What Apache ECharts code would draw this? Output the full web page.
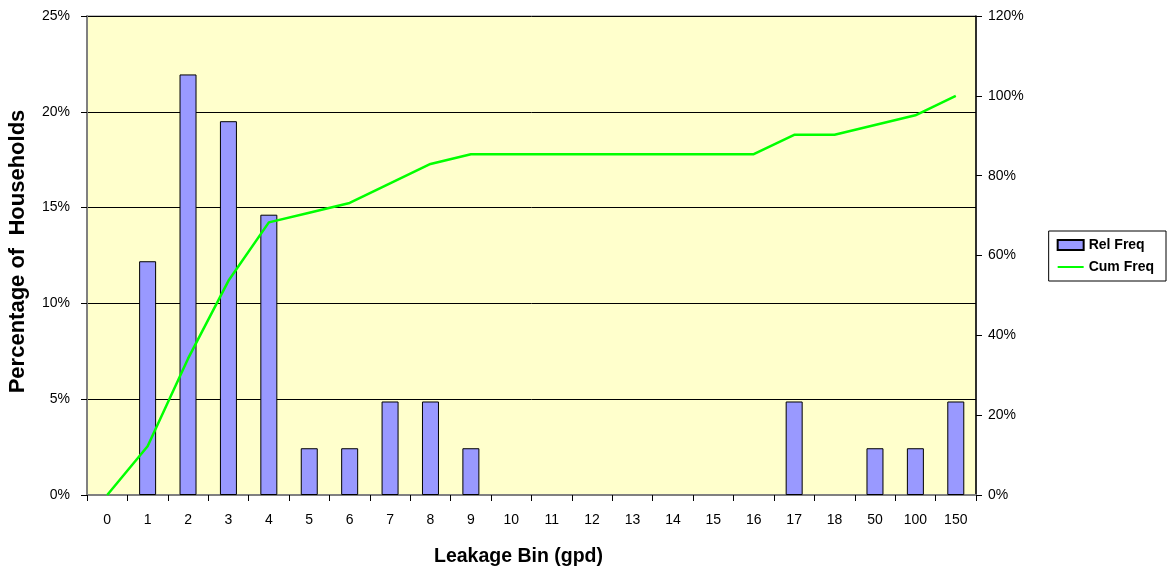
<!DOCTYPE html>
<html><head><meta charset="utf-8">
<script src="https://cdn.jsdelivr.net/npm/echarts@6/dist/echarts.min.js"></script>
<style>html,body{margin:0;padding:0;background:#fff}#c{width:1169px;height:572px}</style>
</head><body><div id="c"></div>
<script>
const categories = ['0','1','2','3','4','5','6','7','8','9','10','11','12','13','14','15','16','17','18','50','100','150'];
const relFreq = [0, 12.2, 21.95, 19.51, 14.63, 2.44, 2.44, 4.88, 4.88, 2.44, 0, 0, 0, 0, 0, 0, 0, 4.88, 0, 2.44, 2.44, 4.88];
const cumFreq = [0, 12.2, 34.15, 53.66, 68.29, 70.73, 73.17, 78.05, 82.93, 85.37, 85.37, 85.37, 85.37, 85.37, 85.37, 85.37, 85.37, 90.24, 90.24, 92.68, 95.12, 100];

const font = 'Liberation Sans, Arial, sans-serif';
const chart = echarts.init(document.getElementById('c'));
chart.setOption({
  animation: false,
  textStyle: {fontFamily: font},
  grid: {left: 87, right: 193, top: 16, bottom: 77, outerBoundsMode: 'none', containLabel: false,
         show: true, backgroundColor: '#FFFFCC', borderColor: '#808080', borderWidth: 1},
  legend: {
    right: 3, top: 231, orient: 'vertical', itemGap: 8,
    padding: [7, 12, 7, 8],
    borderColor: '#000', borderWidth: 1,
    itemWidth: 26, itemHeight: 10,
    textStyle: {fontFamily: font, fontWeight: 'bold', fontSize: 14, color: '#000'},
    data: [
      {name: 'Rel Freq', icon: 'rect'},
      {name: 'Cum Freq', icon: 'path://M0,5 L26,5 L26,7 L0,7 Z'}
    ]
  },
  xAxis: {
    type: 'category', data: categories,
    name: 'Leakage Bin (gpd)', nameLocation: 'middle', nameGap: 52,
    nameTextStyle: {fontFamily: font, fontWeight: 'bold', fontSize: 19.5, color: '#000', padding: [0, 26, 0, 0]},
    axisLine: {lineStyle: {color: '#808080', width: 2}},
    axisTick: {show: true, alignWithLabel: false, length: 6, lineStyle: {color: '#000'}},
    axisLabel: {color: '#000', fontSize: 14, margin: 18, fontFamily: font}
  },
  yAxis: [
    {
      type: 'value', min: 0, max: 25, interval: 5,
      name: 'Percentage of  Households', nameLocation: 'middle', nameGap: 58,
      nameTextStyle: {fontFamily: font, fontWeight: 'bold', fontSize: 22, color: '#000', padding: [0, 0, 0, 8]},
      axisLine: {show: true, lineStyle: {color: '#808080', width: 2}},
      axisTick: {show: true, length: 6, lineStyle: {color: '#000'}},
      axisLabel: {color: '#000', fontSize: 14, margin: 17, formatter: v => v + '%'},
      splitLine: {show: true, lineStyle: {color: '#000', width: 1}}
    },
    {
      type: 'value', min: 0, max: 120, interval: 20,
      axisLine: {show: true, lineStyle: {color: '#000', width: 1.5}},
      axisTick: {show: true, length: 6, lineStyle: {color: '#000'}},
      axisLabel: {color: '#000', fontSize: 14, margin: 12, formatter: v => v + '%'},
      splitLine: {show: false}
    }
  ],
  series: [
    {
      name: 'Rel Freq', type: 'bar', data: relFreq.map(v => v === 0 ? '-' : v), yAxisIndex: 0,
      barWidth: 17,
      itemStyle: {color: '#9999FF', borderColor: '#000', borderWidth: 1}
    },
    {
      name: 'Cum Freq', type: 'line', data: cumFreq, yAxisIndex: 1,
      showSymbol: false, symbol: 'none',
      lineStyle: {color: '#00FF00', width: 2.5},
      itemStyle: {color: '#00FF00'}
    }
  ]
});
</script></body></html>
